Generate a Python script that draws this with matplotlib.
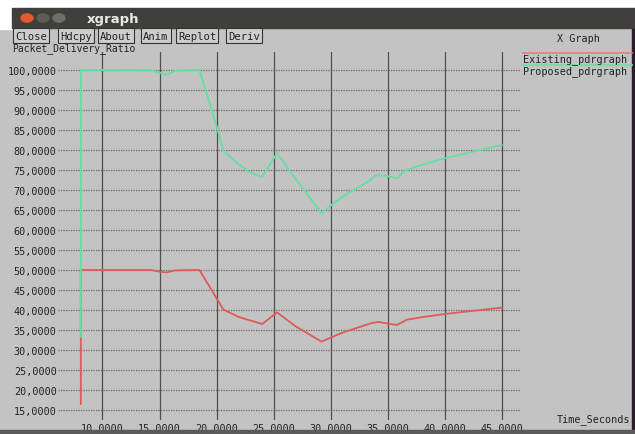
import matplotlib
matplotlib.use("Agg")
import matplotlib.pyplot as plt
from matplotlib.patches import Rectangle, Circle
from matplotlib.ticker import FixedLocator, FuncFormatter

# Existing_pdrgraph (red)
t_existing = [8.1, 8.1, 14.2, 15.0, 15.6, 16.4, 18.5, 20.6, 22.0, 24.0, 25.3, 27.0,
              29.2, 31.0, 33.6, 34.2, 35.8, 36.7, 38.0, 40.0, 42.5, 45.0]
pdr_existing = [16.5, 50, 50, 49.6, 49.4, 49.9, 50, 40.1, 38.2, 36.5, 39.4, 35.8,
                32.1, 34.3, 36.75, 37.0, 36.25, 37.6, 38.2, 39.0, 39.8, 40.6]

# Proposed_pdrgraph (green)
t_proposed = [8.1, 8.1, 14.2, 15.0, 15.6, 16.4, 18.5, 20.0, 20.6, 21.6, 22.9, 24.0,
              25.3, 27.0, 29.2, 30.3, 31.4, 32.5, 33.4, 34.0, 35.0, 35.8, 36.5,
              38.0, 40.0, 42.5, 45.0]
pdr_proposed = [33.3, 100, 100, 99.3, 98.8, 99.8, 100, 86, 79.8, 77.2, 74.4, 73.3,
                79.2, 72.5, 64.2, 66.8, 69, 70.8, 72.3, 73.75, 73.5, 72.9, 74.8,
                76.3, 77.9, 79.6, 81.25]

x_ticks = [10, 15, 20, 25, 30, 35, 40, 45]
y_ticks = [15, 20, 25, 30, 35, 40, 45, 50, 55, 60, 65, 70, 75, 80, 85, 90, 95, 100]
buttons = ["Close", "Hdcpy", "About", "Anim", "Replot", "Deriv"]

W, H = 635, 435
BG = "#c3c3c3"
mono = "DejaVu Sans Mono"

fig = plt.figure(figsize=(W / 100, H / 100), dpi=100, facecolor=BG)


def px(x, y):
    # pixel (from top-left) -> figure fraction
    return x / W, 1 - y / H


# window chrome
fig.patches.append(Rectangle((0, 1 - 9 / H), 1, 9 / H, transform=fig.transFigure,
                             color="white", zorder=0))
fig.patches.append(Rectangle((0, 1 - 30 / H), 12 / W, 30 / H, transform=fig.transFigure,
                             color="white", zorder=0))
fig.patches.append(Rectangle(px(12, 29), (W - 12) / W, 20 / H, transform=fig.transFigure,
                             color="#403f3b", zorder=1))
for cx, col in [(27, "#e2592a"), (43, "#5c5b56"), (59, "#6e6d67")]:
    fig.patches.append(Circle(px(cx, 19), 6 / W, transform=fig.transFigure,
                              color=col, zorder=2))
fig.text(*px(87, 19), "xgraph", color="#e8e8e8", fontsize=9.5, fontweight="bold",
         va="center", ha="left", family="DejaVu Sans")
fig.patches.append(Rectangle(px(632, 435), 3 / W, 405 / H, transform=fig.transFigure,
                             color="#2b1b2b", zorder=1))
fig.patches.append(Rectangle(px(0, 435), 1, 4 / H, transform=fig.transFigure,
                             color="#5a5a5a", zorder=1))

# button row
for b, bx in zip(buttons, [15, 60, 100, 143, 178, 228]):
    fig.text(*px(bx, 36.5), b, fontsize=7.6, family=mono, color="#222222",
             ha="left", va="center", zorder=5,
             bbox=dict(boxstyle="square,pad=0.2", fc="#cdcdcd", ec="#333333", lw=0.8))
fig.text(*px(12, 48.5), "Packet_Delivery_Ratio", fontsize=7.0, family=mono,
         color="#222222", ha="left", va="center", zorder=1)

# plot area
ax = fig.add_axes([58 / W, 14 / H, 462 / W, 368 / H])
ax.set_facecolor(BG)
for s in ax.spines.values():
    s.set_visible(False)
ax.set_xlim(6.1, 46.6)
ax.set_ylim(12.5, 104.5)

for v in y_ticks:
    ax.axhline(v, color="#666666", lw=0.9, ls=(0, (1, 1)), zorder=1)
for v in x_ticks:
    ax.axvline(v, color="#505050", lw=0.9, zorder=1)

ax.plot(t_existing, pdr_existing, color="#df5a5a", lw=1.3, zorder=3)
ax.plot(t_proposed, pdr_proposed, color="#62dfa2", lw=1.3, zorder=4)

fmt = FuncFormatter(lambda v, p: f"{v:.4f}".replace(".", ","))
ax.xaxis.set_major_locator(FixedLocator(x_ticks))
ax.yaxis.set_major_locator(FixedLocator(y_ticks))
ax.xaxis.set_major_formatter(fmt)
ax.yaxis.set_major_formatter(fmt)
ax.tick_params(length=0, labelsize=7.3, colors="#222222", pad=1)
ax.tick_params(axis="x", pad=2)
for lab in ax.get_xticklabels() + ax.get_yticklabels():
    lab.set_family(mono)

# legend / titles, xgraph style
fig.text(*px(578, 39), "X Graph", fontsize=7.3, family=mono, color="#222222",
         ha="center", va="center")
fig.lines.append(plt.Line2D([523 / W, 632 / W], [1 - 54 / H] * 2, color="#e88080",
                            lw=1.3, transform=fig.transFigure))
fig.text(*px(523, 59.5), "Existing_pdrgraph", fontsize=7.3, family=mono,
         color="#222222", ha="left", va="center")
fig.lines.append(plt.Line2D([523 / W, 632 / W], [1 - 66 / H] * 2, color="#70dfa8",
                            lw=1.3, transform=fig.transFigure))
fig.text(*px(523, 71.5), "Proposed_pdrgraph", fontsize=7.3, family=mono,
         color="#222222", ha="left", va="center")
fig.text(*px(630, 420), "Time_Seconds", fontsize=7.3, family=mono, color="#222222",
         ha="right", va="center")

fig.savefig("out.png", dpi=100, facecolor=BG)
